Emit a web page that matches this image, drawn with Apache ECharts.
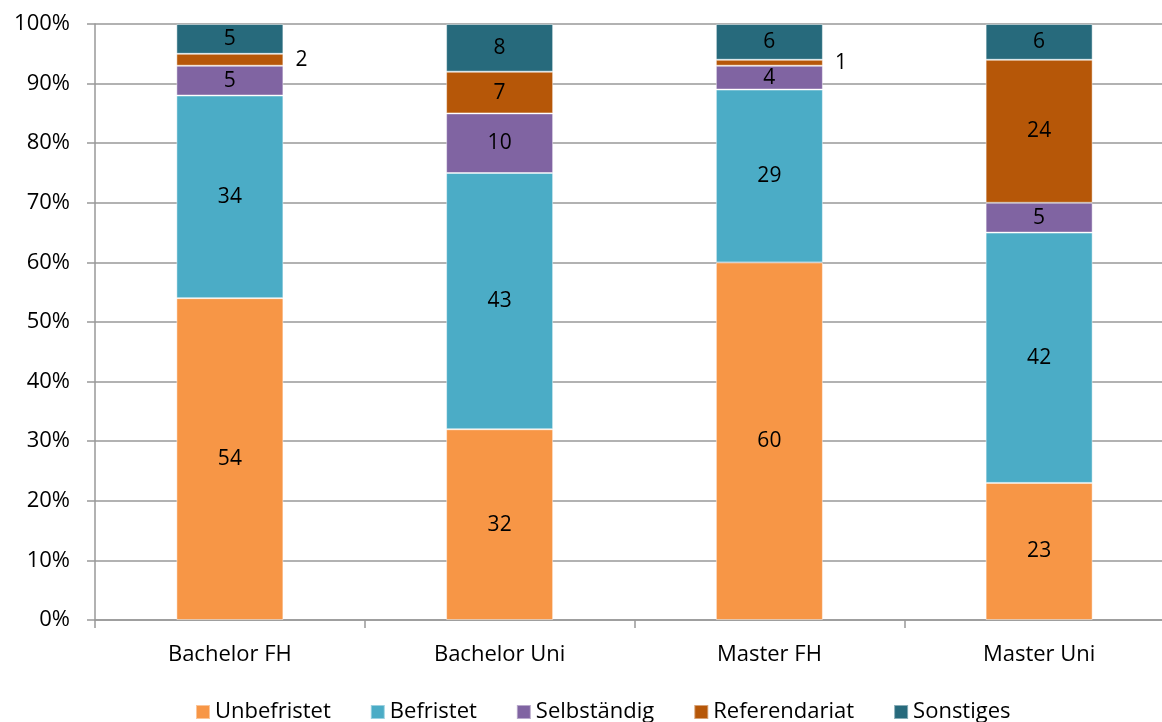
<!DOCTYPE html>
<html><head><meta charset="utf-8">
<script src="https://cdn.jsdelivr.net/npm/echarts@6/dist/echarts.min.js"></script>
<style>html,body{margin:0;padding:0;background:#fff;overflow:hidden}#c{width:1174px;height:722px}</style>
</head><body><div id="c"></div>
<script>
const categories = ["Bachelor FH", "Bachelor Uni", "Master FH", "Master Uni"];
const seriesNames = ["Unbefristet", "Befristet", "Selbständig", "Referendariat", "Sonstiges"];
const unbefristet = [54, 32, 60, 23];
const befristet = [34, 43, 29, 42];
const selbstaendig = [5, 10, 4, 5];
const referendariat = [2, 7, 1, 24];
const sonstiges = [5, 8, 6, 6];
const colors = ["#F79646", "#4BACC6", "#8064A2", "#B65708", "#276A7C"];
const yTicks = [0, 10, 20, 30, 40, 50, 60, 70, 80, 90, 100];

const values = [unbefristet, befristet, selbstaendig, referendariat, sonstiges];
const font = "'Open Sans', 'Noto Sans', sans-serif";

const series = values.map((arr, i) => ({
  name: seriesNames[i],
  type: 'bar',
  stack: 'total',
  barWidth: 107,
  itemStyle: { color: colors[i], borderColor: 'rgba(255,255,255,0.45)', borderWidth: 1 },
  label: { show: true, position: 'inside', color: '#000', fontSize: 21, fontFamily: font },
  data: arr.map(v => v <= 2
    ? { value: v, label: { position: 'right', distance: 12 } }
    : v)
}));

const chart = echarts.init(document.getElementById('c'));
chart.setOption({
  animation: false,
  color: colors,
  grid: { left: 95, top: 24, right: 0, bottom: 102, containLabel: false },
  legend: {
    top: 696, left: 190, itemWidth: 14, itemHeight: 14, itemGap: 39,
    icon: 'rect',
    textStyle: { fontSize: 22, fontFamily: font, color: '#000' },
    data: seriesNames
  },
  xAxis: {
    type: 'category', data: categories,
    axisLine: { lineStyle: { color: '#999', width: 1.5 } },
    axisTick: { show: true, length: 8, lineStyle: { color: '#999', width: 1.5 } },
    axisLabel: { fontSize: 22, fontFamily: font, color: '#000', margin: 24 }
  },
  yAxis: {
    type: 'value', min: 0, max: yTicks[yTicks.length - 1], interval: 10,
    axisLine: { show: true, lineStyle: { color: '#999', width: 1.5 } },
    axisTick: { show: true, length: 8, lineStyle: { color: '#999', width: 1.5 } },
    splitLine: { lineStyle: { color: '#999', width: 1.5 } },
    axisLabel: { fontSize: 22, fontFamily: font, color: '#000', margin: 25, formatter: '{value}%' }
  },
  series: series
});
</script></body></html>
